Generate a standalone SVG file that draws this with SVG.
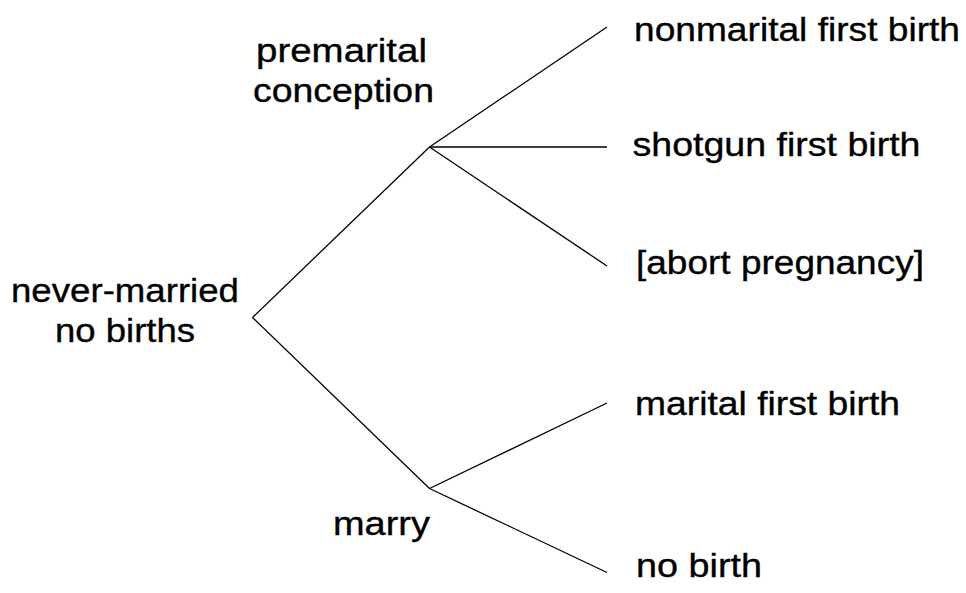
<svg xmlns="http://www.w3.org/2000/svg" width="966" height="593" viewBox="0 0 966 593">
<style>
text{font-family:"Liberation Sans",Arial,Helvetica,sans-serif;font-size:33px;fill:#000;stroke:#000;stroke-width:0.35}
.c line{stroke:#000;stroke-width:1.3;fill:none}
</style>
<rect width="966" height="593" fill="#fff"/>
<g class="c" id="connectors">
<line x1="252.5" y1="317.5" x2="429.5" y2="147"/>
<line x1="252.5" y1="317.5" x2="429.5" y2="488.5"/>
<line x1="429.5" y1="147" x2="607" y2="27"/>
<line x1="429.5" y1="147" x2="607" y2="147"/>
<line x1="429.5" y1="147" x2="607" y2="266"/>
<line x1="429.5" y1="488.5" x2="607" y2="403"/>
<line x1="429.5" y1="488.5" x2="607" y2="572.5"/>
</g>
<g id="root"><text x="11" y="302" textLength="228" lengthAdjust="spacingAndGlyphs">never-married</text><text x="55" y="342" textLength="140" lengthAdjust="spacingAndGlyphs">no births</text></g>
<g id="premarital"><text x="256" y="62" textLength="171" lengthAdjust="spacingAndGlyphs">premarital</text><text x="253" y="102" textLength="181" lengthAdjust="spacingAndGlyphs">conception</text></g>
<g id="marry"><text x="333" y="535" textLength="97" lengthAdjust="spacingAndGlyphs">marry</text></g>
<g id="nonmarital"><text x="634" y="40.5" textLength="326" lengthAdjust="spacingAndGlyphs">nonmarital first birth</text></g>
<g id="shotgun"><text x="632.5" y="156" textLength="288" lengthAdjust="spacingAndGlyphs">shotgun first birth</text></g>
<g id="abort"><text x="636" y="273.5" textLength="288" lengthAdjust="spacingAndGlyphs">[abort pregnancy]</text></g>
<g id="marital"><text x="635" y="415" textLength="265" lengthAdjust="spacingAndGlyphs">marital first birth</text></g>
<g id="nobirth"><text x="636" y="577" textLength="126" lengthAdjust="spacingAndGlyphs">no birth</text></g>
</svg>
